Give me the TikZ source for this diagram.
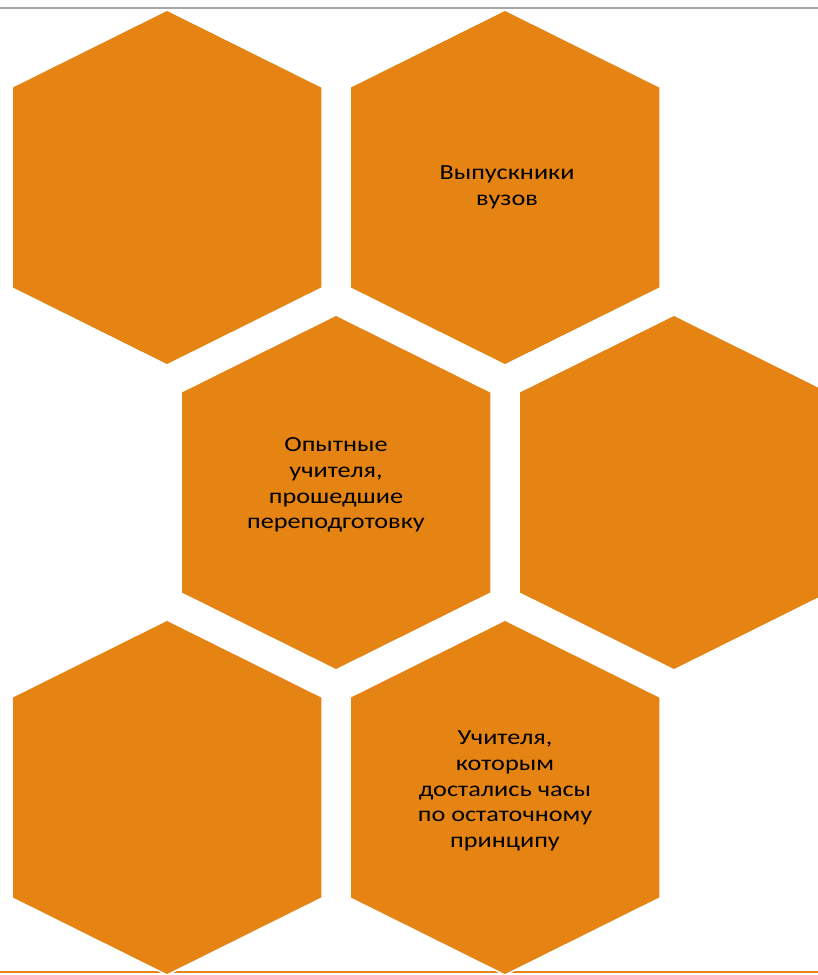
\documentclass[tikz,border=0pt]{standalone}
\usepackage{fontspec}
\setmainfont{Carlito}
\usetikzlibrary{calc}
\definecolor{hexorange}{RGB}{229,131,19}
\definecolor{topgrey}{RGB}{166,166,166}
\tikzset{
  hexfill/.style={fill=hexorange, draw=white, line width=1.5pt, line join=miter},
  hextext/.style={align=center, font=\fontsize{21.5pt}{25.7pt}\selectfont, text=black, inner sep=0pt}
}
\newcommand\wl[1]{\scalebox{1.22}[1]{#1}}
\newcommand\myhex[3]{%
  \coordinate (#1) at (#2,#3);
  \filldraw[hexfill] ($(#1)+(0,-177.5)$) -- ($(#1)+(155,-100.5)$) -- ($(#1)+(155,100.5)$)
    -- ($(#1)+(0,177.5)$) -- ($(#1)+(-155,100.5)$) -- ($(#1)+(-155,-100.5)$) -- cycle;
}
\begin{document}
\begin{tikzpicture}[x=1pt,y=-1pt]
\useasboundingbox (0,0) rectangle (818,975);
\clip (0,0) rectangle (818,975);
\draw[topgrey, line width=1.5pt] (0,8) -- (818,8);
\draw[hexorange, line width=2.5pt] (0,972) -- (818,972);
\myhex{h1}{167}{187.5}
\myhex{h2}{505}{187.5}
\myhex{h3}{336}{492.5}
\myhex{h4}{674}{492.5}
\myhex{h5}{167}{797.5}
\myhex{h6}{505}{797.5}
\node[hextext] (t2) at (507,187) {\wl{Выпускники}\\\wl{вузов}};
\node[hextext] (t3) at (336,485) {\wl{Опытные}\\\wl{учителя,}\\\wl{прошедшие}\\\wl{переподготовку}};
\node[hextext] (t6) at (505,791) {\wl{Учителя,}\\\wl{которым}\\\wl{достались часы}\\\wl{по остаточному}\\\wl{принципу}};
\end{tikzpicture}
\end{document}
